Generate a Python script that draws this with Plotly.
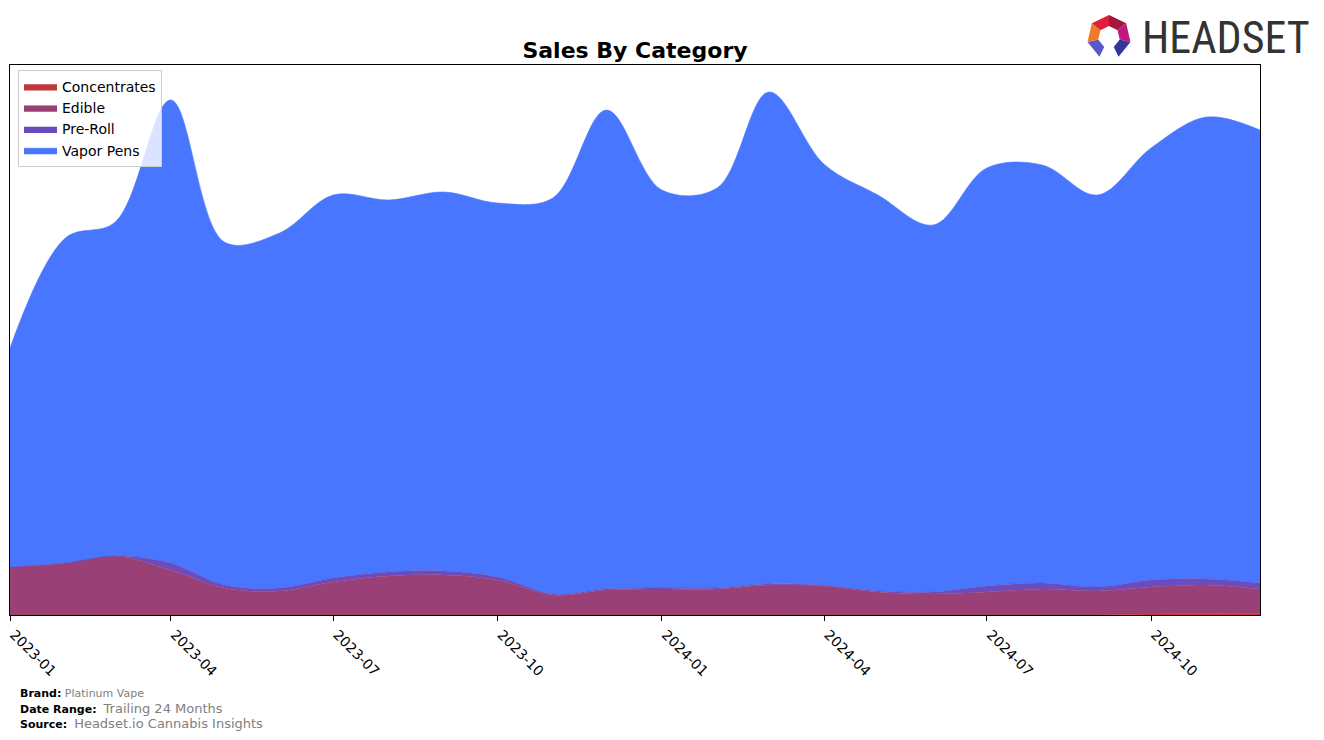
import math
import plotly.graph_objects as go

months = ["2023-01-01", "2023-02-01", "2023-03-01", "2023-04-01", "2023-05-01", "2023-06-01",
          "2023-07-01", "2023-08-01", "2023-09-01", "2023-10-01", "2023-11-01", "2023-12-01",
          "2024-01-01", "2024-02-01", "2024-03-01", "2024-04-01", "2024-05-01", "2024-06-01",
          "2024-07-01", "2024-08-01", "2024-09-01", "2024-10-01", "2024-11-01", "2024-12-01"]

concentrates = [0, 0, 0, 0, 0, 0, 0, 0, 0, 0, 0, 0,
                0, 0, 0, 0, 0, 0, 0, 0, 0, 1000, 1500, 1500]
edible = [48000, 52000, 59000, 45000, 27000, 24000, 33000, 39000, 40000, 35000, 20000, 25000,
          26000, 26000, 30000, 29000, 23000, 21000, 23000, 26000, 24000, 27000, 28500, 24500]
pre_roll = [0, 0, 0, 7000, 3000, 3000, 4000, 4000, 4000, 3000, 1000, 1000,
            1000, 1000, 1000, 500, 1000, 2000, 6000, 6000, 4000, 7000, 6000, 6000]
vapor_pens = [219000, 325000, 334000, 463000, 343000, 355000, 383000, 372000, 379000, 374000, 396000, 479000,
              398000, 400000, 492000, 421000, 396000, 367000, 418000, 418000, 392000, 432000, 462000, 453000]

series = [("Concentrates", concentrates, "#C0373A"),
          ("Edible", edible, "#994176"),
          ("Pre-Roll", pre_roll, "#6A4CBF"),
          ("Vapor Pens", vapor_pens, "#4876FF")]

fig = go.Figure()
for name, vals, col in series:
    fig.add_trace(go.Scatter(
        x=months, y=vals, name=name, mode="lines", stackgroup="one",
        line=dict(width=0.6, color=col, shape="spline", smoothing=1.0),
        fillcolor=col, hoverinfo="skip"))

# plot area in pixels
L, R, T, B = 10, 1260, 65, 615
W, H = R - L, B - T

def px(xp):
    return (xp - L) / W

def py(yp):
    return (B - yp) / H

# Headset logo icon (heptagon ring with open bottom)
cx, cy, Ro, Ri = 1109, 37, 22, 11
angs = [-90 + i * 360 / 7 for i in range(7)]
def pt(r, a):
    return (cx + r * math.cos(math.radians(a)), cy + r * math.sin(math.radians(a)))
seg_colors = {0: "#A3173D", 1: "#C2177E", 2: "#33359A", 4: "#5A56CC", 5: "#F07A28", 6: "#E0203A"}
shapes = []
for i, colr in seg_colors.items():
    a1, a2 = angs[i], angs[(i + 1) % 7]
    pts = [pt(Ro, a1), pt(Ro, a2), pt(Ri, a2), pt(Ri, a1)]
    path = "M " + " L ".join(f"{px(x):.5f},{py(y):.5f}" for x, y in pts) + " Z"
    shapes.append(dict(type="path", path=path, xref="paper", yref="paper",
                       fillcolor=colr, line=dict(width=0), layer="above"))

annotations = [
    dict(text="HEADSET", x=px(1226), y=py(38), xref="paper", yref="paper", xanchor="center",
         yanchor="middle", showarrow=False,
         font=dict(family="Roboto Condensed, Liberation Sans Narrow, Roboto", size=44, color="#333333")),
    dict(text="<b>Brand:</b> <span style='color:#808080'>Platinum Vape</span>", x=px(18), y=py(693),
         xref="paper", yref="paper", xanchor="left", yanchor="middle", showarrow=False,
         font=dict(family="DejaVu Sans", size=11, color="black")),
    dict(text="<b>Date Range:</b>  <span style='color:#808080;font-size:13px'>Trailing 24 Months</span>",
         x=px(18), y=py(708), xref="paper", yref="paper", xanchor="left", yanchor="middle",
         showarrow=False, font=dict(family="DejaVu Sans", size=11, color="black")),
    dict(text="<b>Source:</b>  <span style='color:#808080;font-size:13px'>Headset.io Cannabis Insights</span>",
         x=px(18), y=py(723), xref="paper", yref="paper", xanchor="left", yanchor="middle",
         showarrow=False, font=dict(family="DejaVu Sans", size=11, color="black")),
]

fig.update_layout(
    width=1324, height=740,
    margin=dict(l=L, r=1324 - R, t=T, b=740 - B, autoexpand=False),
    paper_bgcolor="white", plot_bgcolor="white",
    title=dict(text="<b>Sales By Category</b>", x=(L + R) / 2 / 1324, xanchor="center",
               y=1 - 50 / 740, yanchor="middle",
               font=dict(family="DejaVu Sans", size=22, color="black")),
    font=dict(family="DejaVu Sans", color="black"),
    showlegend=True,
    legend=dict(x=px(18), y=py(70), xanchor="left", yanchor="top", traceorder="normal",
                bgcolor="rgba(255,255,255,0.8)", bordercolor="#CCCCCC", borderwidth=1,
                font=dict(family="DejaVu Sans", size=14, color="black"), itemwidth=33,
                tracegroupgap=0),
    xaxis=dict(type="date", range=["2023-01-01", "2024-12-01"], automargin=False,
               tickvals=["2023-01-01", "2023-04-01", "2023-07-01", "2023-10-01",
                         "2024-01-01", "2024-04-01", "2024-07-01", "2024-10-01"],
               ticktext=["2023-01", "2023-04", "2023-07", "2023-10",
                         "2024-01", "2024-04", "2024-07", "2024-10"],
               tickangle=45, ticks="outside", ticklen=5, tickcolor="black",
               ticklabelshift=4,
               showline=True, linecolor="black", linewidth=1, mirror=True,
               showgrid=False, zeroline=False,
               tickfont=dict(family="DejaVu Sans", size=14, color="black")),
    yaxis=dict(range=[0, 550000], showticklabels=False, ticks="", showgrid=False, automargin=False,
               zeroline=False, showline=True, linecolor="black", linewidth=1, mirror=True),
    shapes=shapes,
    annotations=annotations,
)

fig.write_html("out.html")
